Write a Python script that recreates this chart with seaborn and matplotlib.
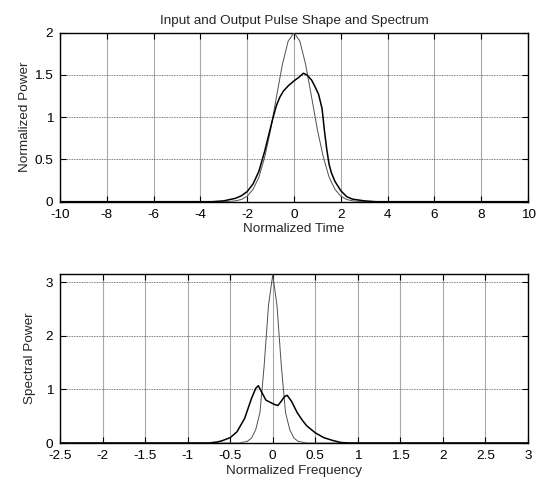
import numpy as np
import pandas as pd
import matplotlib
matplotlib.use("Agg")
import matplotlib.pyplot as plt
import seaborn as sns

# ---- Data ----
# Top panel: input pulse (thin) and output pulse (thick)
t_in = [-10.0, -3.5, -3.0, -2.75, -2.5, -2.25, -2.0, -1.75, -1.5, -1.25, -1.0, -0.75,
        -0.5, -0.25, 0.0, 0.25, 0.5, 0.75, 1.0, 1.25, 1.5, 1.75, 2.0, 2.25, 2.5,
        2.75, 3.0, 3.5, 10.0]
p_in = [0.0, 0.0, 0.001, 0.003, 0.01, 0.026, 0.065, 0.146, 0.29, 0.53, 0.85, 1.24,
        1.62, 1.90, 2.0, 1.90, 1.62, 1.24, 0.85, 0.53, 0.29, 0.146, 0.065, 0.026, 0.01,
        0.003, 0.001, 0.0, 0.0]

t_out = [-10.0, -3.5, -3.0, -2.5, -2.25, -2.0, -1.75, -1.5, -1.25, -1.0, -0.9, -0.75,
         -0.6, -0.45, -0.25, 0.0, 0.2, 0.4, 0.55, 0.75, 0.9, 1.05, 1.2, 1.3, 1.4, 1.5,
         1.6, 1.75, 2.0, 2.25, 2.5, 3.0, 3.5, 10.0]
p_out = [0.0, 0.0, 0.01, 0.04, 0.07, 0.12, 0.21, 0.36, 0.60, 0.88, 0.99, 1.14,
         1.24, 1.31, 1.37, 1.43, 1.47, 1.52, 1.50, 1.44, 1.36, 1.27, 1.10, 0.84, 0.62,
         0.44, 0.34, 0.24, 0.13, 0.06, 0.03, 0.01, 0.0, 0.0]

# Bottom panel: input spectrum (thin) and output spectrum (thick)
f_in = [-2.5, -0.4, -0.3, -0.25, -0.2, -0.15, -0.1, -0.05, 0.0, 0.05, 0.1, 0.15,
        0.2, 0.25, 0.3, 0.4, 3.0]
s_in = [0.0, 0.0, 0.03, 0.09, 0.25, 0.57, 1.46, 2.57, 3.14, 2.57, 1.46, 0.57,
        0.25, 0.09, 0.03, 0.0, 0.0]

f_out = [-2.5, -0.75, -0.65, -0.6, -0.5, -0.42, -0.33, -0.25, -0.2, -0.17, -0.12,
         -0.08, -0.03, 0.02, 0.06, 0.1, 0.14, 0.17, 0.22, 0.29, 0.35, 0.4, 0.5,
         0.6, 0.7, 0.8, 0.9, 3.0]
s_out = [0.0, 0.0, 0.02, 0.04, 0.10, 0.21, 0.46, 0.83, 1.02, 1.07, 0.92,
         0.80, 0.76, 0.72, 0.70, 0.78, 0.87, 0.89, 0.78, 0.56, 0.42, 0.32, 0.19,
         0.10, 0.05, 0.01, 0.0, 0.0]

top_xticks = [-10, -8, -6, -4, -2, 0, 2, 4, 6, 8, 10]
top_yticks = [0, 0.5, 1, 1.5, 2]
bot_xticks = [-2.5, -2, -1.5, -1, -0.5, 0, 0.5, 1, 1.5, 2, 2.5, 3]
bot_yticks = [0, 1, 2, 3]

# ---- Style ----
sns.set_style("white")
plt.rcParams['font.family'] = ['Liberation Sans', 'DejaVu Sans']
FS = 9.7

fig = plt.figure(figsize=(5.42, 4.93), dpi=100)
ax1 = fig.add_axes([0.1107, 0.5909, 0.8635, 0.3428])
ax2 = fig.add_axes([0.1107, 0.1014, 0.8635, 0.3428])


def style(ax, xticks, yticks, xlim, ylim, xlabels):
    ax.set_xlim(*xlim)
    ax.set_ylim(*ylim)
    ax.set_xticks(xticks)
    ax.set_xticklabels(xlabels)
    ax.set_yticks(yticks)
    ax.set_yticklabels([("%g" % v) for v in yticks])
    ax.grid(False)
    for v in xticks:
        ax.axvline(v, color='#a8a8a8', lw=0.8, zorder=0)
    for v in yticks:
        ax.axhline(v, color='#505050', lw=0.6, ls=(0, (1, 1)), zorder=0)
    ax.tick_params(direction='in', length=4, width=0.8, top=True, right=True,
                   bottom=True, left=True, labelsize=FS, colors='black')
    ax.tick_params(axis='x', pad=5)
    ax.tick_params(axis='y', pad=5)
    for s in ax.spines.values():
        s.set_color('black')
        s.set_linewidth(1.0)
        s.set_visible(True)


df_in = pd.DataFrame({'t': t_in, 'p': p_in})
df_out = pd.DataFrame({'t': t_out, 'p': p_out})
sns.lineplot(data=df_in, x='t', y='p', ax=ax1, color='#505050', lw=0.7,
             estimator=None, sort=False, zorder=3)
sns.lineplot(data=df_out, x='t', y='p', ax=ax1, color='black', lw=1.1,
             estimator=None, sort=False, zorder=4)
style(ax1, top_xticks, top_yticks, (-10, 10), (0, 2), [str(v) for v in top_xticks])
ax1.set_xlabel('Normalized Time', fontsize=FS, labelpad=2)
ax1.set_ylabel('Normalized Power', fontsize=FS, labelpad=2)
ax1.set_title('Input and Output Pulse Shape and Spectrum', fontsize=FS, pad=6)

dfs_in = pd.DataFrame({'f': f_in, 's': s_in})
dfs_out = pd.DataFrame({'f': f_out, 's': s_out})
sns.lineplot(data=dfs_in, x='f', y='s', ax=ax2, color='#505050', lw=0.7,
             estimator=None, sort=False, zorder=3)
sns.lineplot(data=dfs_out, x='f', y='s', ax=ax2, color='black', lw=1.1,
             estimator=None, sort=False, zorder=4)
style(ax2, bot_xticks, bot_yticks, (-2.5, 3), (0, 3.155), [("%g" % v) for v in bot_xticks])
ax2.set_xlabel('Normalized Frequency', fontsize=FS, labelpad=2)
ax2.set_ylabel('Spectral Power', fontsize=FS, labelpad=7)

fig.savefig('out.png', dpi=100, facecolor='white')
